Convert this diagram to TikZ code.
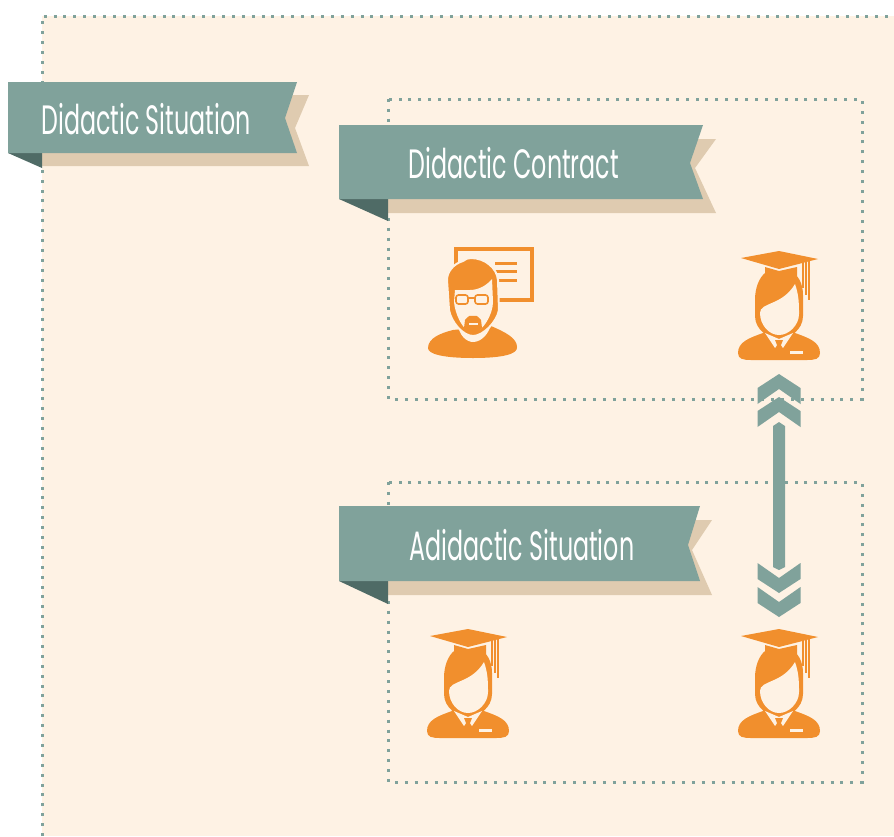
\documentclass[tikz,border=0pt]{standalone}
\usepackage{fontspec}
\newfontfamily\bannerfont[FakeStretch=0.58]{Poppins}
\usetikzlibrary{positioning}

\definecolor{cream}{HTML}{FEF2E4}
\definecolor{teal}{HTML}{80A29B}
\definecolor{tealdark}{HTML}{4F6B66}
\definecolor{sand}{HTML}{DFCBB0}
\definecolor{figure}{HTML}{F18F2D}

\tikzset{
    dotline/.style={draw=teal, line width=3pt, dash pattern=on 3pt off 6.9pt},
    bannertext/.style={text=white, inner sep=0pt, font=\bannerfont\fontsize{41}{44}\selectfont},
    pics/student/.style={code={
        % cap and tassel
        \fill[figure] (-38,18) -- (0,11) -- (39,19) -- (0,29) -- cycle;
        \fill[figure] (-14,27) -- (0,31) -- (18,27) -- (18,38) -- (-14,38) -- cycle;
        \foreach \tx/\ty in {24/48, 27/55, 30/60}
            \draw[figure, line width=1.4pt] (\tx,20) -- (\tx,\ty);
        % body
        \fill[figure] (-16,93) .. controls (-30,98) and (-41,102) .. (-41,113)
            .. controls (-41,119) and (-36,120) .. (-28,120) -- (28,120)
            .. controls (36,120) and (41,119) .. (41,113)
            .. controls (41,102) and (30,98) .. (16,93) -- cycle;
        % head
        \fill[figure] (-14,33) .. controls (-20,38) and (-24,48) .. (-24,60) -- (-24,76)
            .. controls (-24,90) and (-10,99) .. (0,99)
            .. controls (10,99) and (24,90) .. (24,76) -- (24,55)
            .. controls (24,42) and (18,35) .. (14,33) -- cycle;
        \fill[cream] (-19,73) .. controls (-19,62) and (3,66) .. (16,44)
            .. controls (20,55) and (20,65) .. (20,74)
            .. controls (20,85) and (10,95) .. (0,95)
            .. controls (-10,95) and (-19,85) .. (-19,73) -- cycle;
        % collar and tie
        \fill[cream] (-14,93) -- (-4,108) -- (0,103) -- (4,108) -- (14,93) -- (0,99) -- cycle;
        \fill[figure] (-4,100) -- (4,100) -- (2,105) -- (4,112) -- (0,116) -- (-4,112) -- (-2,105) -- cycle;
        \fill[cream] (11,111) rectangle (24,113.5);
    }},
    pics/teacher/.style={code={
        % board
        \draw[figure, line width=4.5pt] (-17,19) rectangle (59,70);
        \foreach \ly in {33, 41, 50}
            \draw[figure, line width=3pt] (22,\ly) -- (44,\ly);
        % body and neck
        \fill[figure] (-20,100) .. controls (-32,103) and (-45,108) .. (-45,118)
            .. controls (-45,124) and (-30,128) .. (0,128)
            .. controls (30,128) and (45,124) .. (44,117)
            .. controls (44,108) and (32,102) .. (18,96) -- cycle;
        \fill[cream] (-15,94) .. controls (-14,106) and (-6,112) .. (0,112)
            .. controls (8,112) and (16,104) .. (18,94) -- cycle;
        % head
        \filldraw[fill=figure, draw=cream, line width=2pt] (-10,31) .. controls (-20,34) and (-26,42) .. (-26,50)
            -- (-24,80) .. controls (-22,92) and (-10,106) .. (0,106)
            .. controls (10,106) and (24,92) .. (26,80) -- (25,50)
            .. controls (24,38) and (12,28) .. (-2,28) .. controls (-5,28) and (-8,29) .. (-10,31) -- cycle;
        \fill[cream] (-18,60) -- (-3,60) .. controls (6,60) and (14,55) .. (19,49)
            -- (20,72) .. controls (20,84) and (10,102) .. (0,103)
            .. controls (-10,102) and (-18,84) .. (-19,72) -- cycle;
        % beard
        \fill[figure] (-8,90) .. controls (-4,85) and (-2,85) .. (0,86)
            .. controls (2,85) and (4,85) .. (8,90) -- (9,98)
            .. controls (6,102) and (3,104) .. (0,104)
            .. controls (-3,104) and (-6,102) .. (-9,98) -- cycle;
        \fill[cream] (-4,93) rectangle (5,95);
        % glasses
        \draw[figure, line width=1.6pt, rounded corners=2.5pt] (-17,65) rectangle (-5,74);
        \draw[figure, line width=1.6pt, rounded corners=2.5pt] (2,65) rectangle (15,74);
        \draw[figure, line width=1.6pt] (-5,68) -- (2,68);
    }},
    pics/chevron/.style={code={
        \fill[teal] (0,0) -- (21.5,14) -- (21.5,30) -- (0,15) -- (-21.5,30) -- (-21.5,14) -- cycle;
    }}
}

\begin{document}
\begin{tikzpicture}[x=1pt, y=-1pt]
    \useasboundingbox (0,0) rectangle (894,836);

    % paper
    \fill[cream] (42,16) rectangle (894,836);

    % dotted frames
    \draw[dotline] (42,836) -- (42,16) -- (894,16);
    \draw[dotline] (388,99) rectangle (862,399);
    \draw[dotline] (388,482) rectangle (862,782);

    % Didactic Situation banner
    \fill[sand] (42,130) -- (295,95) -- (309,95) -- (295,128) -- (309,166) -- (42,166) -- cycle;
    \fill[tealdark] (8,153) -- (42,168) -- (42,150) -- cycle;
    \fill[teal] (8,82) -- (297,82) -- (285,118) -- (297,153) -- (8,153) -- cycle;
    \node[bannertext] (situation) at (146,119) {Didactic Situation};

    % Didactic Contract banner
    \fill[sand] (388,160) -- (690,139) -- (716,139) -- (695,168) -- (716,213) -- (388,213) -- cycle;
    \fill[tealdark] (339,199) -- (388,221) -- (388,195) -- cycle;
    \fill[teal] (339,125) -- (703,125) -- (690,163) -- (703,199) -- (339,199) -- cycle;
    \node[bannertext] (contract) at (514,163) {Didactic Contract};

    % Adidactic Situation banner
    \fill[sand] (388,540) -- (690,520) -- (712,520) -- (692,550) -- (712,595) -- (388,595) -- cycle;
    \fill[tealdark] (339,581) -- (388,604) -- (388,577) -- cycle;
    \fill[teal] (339,506) -- (700,506) -- (688,545) -- (700,581) -- (339,581) -- cycle;
    \node[bannertext] (adidactic) at (522,545) {Adidactic Situation};

    % figures
    \pic at (473,230) {teacher};
    \pic at (779,240) {student};
    \pic at (468,618) {student};
    \pic at (779,618) {student};

    % double arrow
    \coordinate (arrowtop) at (779,422);
    \coordinate (arrowbot) at (779,570);
    \fill[teal] (arrowtop) -- (785,426) -- (785,567) -- (arrowbot) -- (773,567) -- (773,426) -- cycle;
    \pic at (779,374) {chevron};
    \pic at (779,397) {chevron};
    \pic[yscale=-1] at (779,593) {chevron};
    \pic[yscale=-1] at (779,617) {chevron};
\end{tikzpicture}
\end{document}
